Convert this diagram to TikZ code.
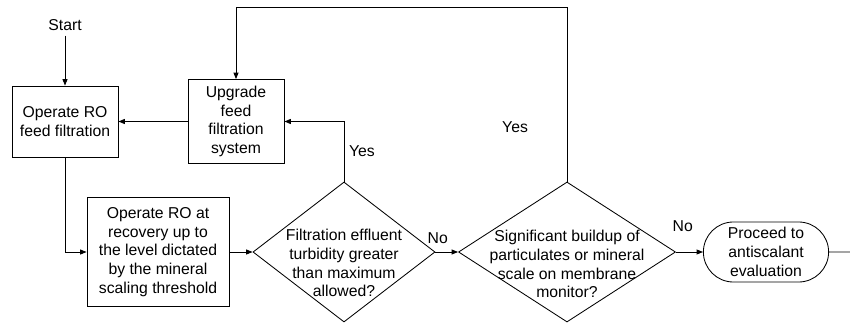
\documentclass[tikz,border=0pt]{standalone}
\usepackage{fontspec}
\setmainfont{Liberation Sans}
\usetikzlibrary{arrows.meta,positioning,shapes.geometric,shapes.misc}

\begin{document}
\begin{tikzpicture}[x=0.025cm,y=0.025cm,font=\fontsize{11.2}{13.4}\selectfont,line width=0.6pt,
  box/.style={draw,rectangle,align=center,inner sep=1pt},
  decision/.style={draw,diamond,inner sep=0pt},
  terminal/.style={draw,rounded rectangle,align=center,inner sep=1pt},
  flow/.style={-{Triangle[length=4.5pt,width=3.5pt]}}]
  \useasboundingbox (0,0) rectangle (850,324);
  \node (start) at (65,299) {Start};
  \node[box,minimum width=2.65cm,minimum height=1.775cm] (feed) at (65,202.5) {Operate RO\\feed filtration};
  \node[box,minimum width=2.4cm,minimum height=2.1cm] (upgrade) at (236,202.5) {Upgrade\\feed\\filtration\\system};
  \node[box,minimum width=3.55cm,minimum height=2.725cm] (recov) at (158,72) {Operate RO at\\recovery up to\\the level dictated\\by the mineral\\scaling threshold};
  \node[decision,minimum width=4.55cm,minimum height=3.5cm] (turb) at (344,72) {};
  \node[align=center] (turbtext) at (344,61) {Filtration effluent\\turbidity greater\\than maximum\\allowed?};
  \node[decision,minimum width=5.425cm,minimum height=3.5cm] (scale) at (567,72) {};
  \node[align=center] (scaletext) at (567,60) {Significant buildup of\\particulates or mineral\\scale on membrane\\monitor?};
  \node[terminal,minimum width=3.2cm,minimum height=1.5cm] (proceed) at (766,72) {Proceed to\\antiscalant\\evaluation};
  \coordinate (loop) at (567,317);
  \coordinate (out) at (850,72);
  % connectors
  \draw[flow] (start) -- (feed);
  \draw[flow] (upgrade) -- (feed);
  \draw[flow] (feed.south) |- (recov.west);
  \draw[flow] (recov) -- (turb);
  \draw[flow] (turb.north) |- (upgrade.east) node[pos=0.25,right]{Yes};
  \draw[flow] (turb) -- (scale) node[pos=0.1,above=0.09cm]{No};
  \draw[flow] (scale.north) -- node[pos=0.31,left=0.85cm]{Yes} (loop) -| (upgrade.north);
  \draw[flow] (scale) -- (proceed) node[pos=0.25,above=0.37cm]{No};
  \draw (proceed) -- (out);
\end{tikzpicture}
\end{document}
